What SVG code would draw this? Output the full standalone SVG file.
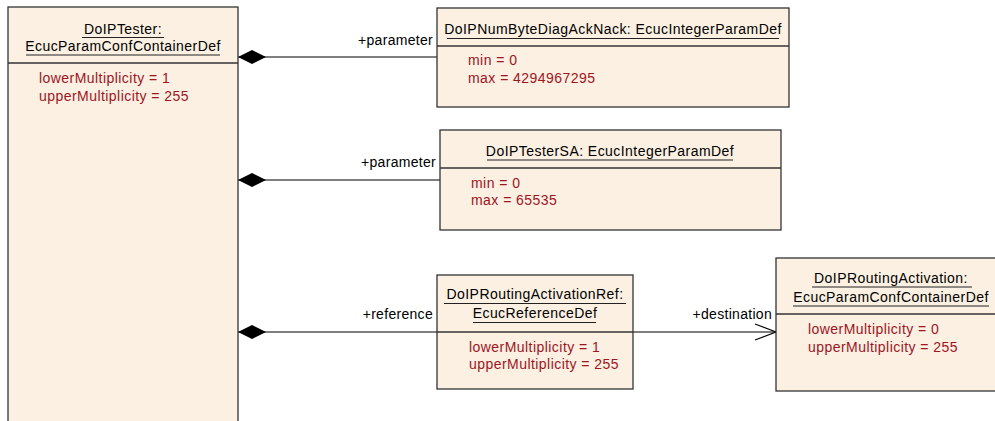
<svg xmlns="http://www.w3.org/2000/svg" width="995" height="421" viewBox="0 0 995 421">
<style>
.box{fill:#FBF0E2;stroke:#333333;stroke-width:1.3}
.sep{stroke:#333333;stroke-width:1.3}
.u{stroke:#222;stroke-width:1.2}
.t{font-family:"Liberation Sans",Arial,sans-serif;font-size:14px;letter-spacing:0.45px;fill:#000;text-anchor:middle}
.a{font-family:"Liberation Sans",Arial,sans-serif;font-size:14px;letter-spacing:0.45px;fill:#A0141E}
.l{font-family:"Liberation Sans",Arial,sans-serif;font-size:14px;letter-spacing:0.3px;fill:#000;text-anchor:end}
.c{stroke:#000;stroke-width:1.2;fill:none}
</style>
<defs>
<marker id="dia" markerWidth="30" markerHeight="16" refX="0" refY="8" orient="auto" markerUnits="userSpaceOnUse">
<path d="M0,8 L14,1 L28,8 L14,15 Z" fill="#000"/>
</marker>
<marker id="open" markerWidth="24" markerHeight="20" refX="22" refY="10" orient="auto" markerUnits="userSpaceOnUse">
<path d="M1,2 L22,10 L1,18" fill="none" stroke="#000" stroke-width="1.2"/>
</marker>
</defs>
<g id="connectors">
<path class="c" d="M238,57 L437,57" marker-start="url(#dia)"/>
<path class="c" d="M238,180 L440,180" marker-start="url(#dia)"/>
<path class="c" d="M238,332 L776,332" marker-start="url(#dia)" marker-end="url(#open)"/>
<text class="l" x="433" y="45">+parameter</text>
<text class="l" x="436" y="167">+parameter</text>
<text class="l" x="433" y="319">+reference</text>
<text class="l" x="772" y="319">+destination</text>
</g>
<g id="DoIPTester">
<rect class="box" x="8" y="7" width="230" height="430"/>
<line class="sep" x1="8" y1="63" x2="238" y2="63"/>
<text class="t" x="123" y="34">DoIPTester:</text>
<line class="u" x1="82" y1="37.5" x2="164" y2="37.5"/>
<text class="t" x="123" y="51">EcucParamConfContainerDef</text>
<line class="u" x1="26" y1="55" x2="220" y2="55"/>
<text class="a" x="39" y="83">lowerMultiplicity = 1</text>
<text class="a" x="39" y="101">upperMultiplicity = 255</text>
</g>
<g id="DoIPNumByteDiagAckNack">
<rect class="box" x="437" y="8" width="352" height="99"/>
<line class="sep" x1="437" y1="46" x2="789" y2="46"/>
<text class="t" x="613" y="34" letter-spacing="0.2">DoIPNumByteDiagAckNack: EcucIntegerParamDef</text>
<line class="u" x1="447" y1="38.5" x2="779" y2="38.5"/>
<text class="a" x="468" y="65">min = 0</text>
<text class="a" x="468" y="83">max = 4294967295</text>
</g>
<g id="DoIPTesterSA">
<rect class="box" x="440" y="130" width="341" height="100"/>
<line class="sep" x1="440" y1="168" x2="781" y2="168"/>
<text class="t" x="610" y="156">DoIPTesterSA: EcucIntegerParamDef</text>
<line class="u" x1="487" y1="160" x2="733" y2="160"/>
<text class="a" x="471" y="188">min = 0</text>
<text class="a" x="471" y="205">max = 65535</text>
</g>
<g id="DoIPRoutingActivationRef">
<rect class="box" x="437" y="275" width="196" height="114"/>
<line class="sep" x1="437" y1="332" x2="633" y2="332"/>
<text class="t" x="535" y="299">DoIPRoutingActivationRef:</text>
<line class="u" x1="444" y1="303.5" x2="626" y2="303.5"/>
<text class="t" x="535" y="318">EcucReferenceDef</text>
<line class="u" x1="473" y1="322.5" x2="596" y2="322.5"/>
<text class="a" x="469" y="352">lowerMultiplicity = 1</text>
<text class="a" x="469" y="369">upperMultiplicity = 255</text>
</g>
<g id="DoIPRoutingActivation">
<rect class="box" x="776" y="258" width="232" height="133"/>
<line class="sep" x1="776" y1="314" x2="1008" y2="314"/>
<text class="t" x="891" y="283">DoIPRoutingActivation:</text>
<line class="u" x1="812" y1="287" x2="972" y2="287"/>
<text class="t" x="891" y="302">EcucParamConfContainerDef</text>
<line class="u" x1="793" y1="306" x2="989" y2="306"/>
<text class="a" x="808" y="334">lowerMultiplicity = 0</text>
<text class="a" x="808" y="352">upperMultiplicity = 255</text>
</g>
</svg>
